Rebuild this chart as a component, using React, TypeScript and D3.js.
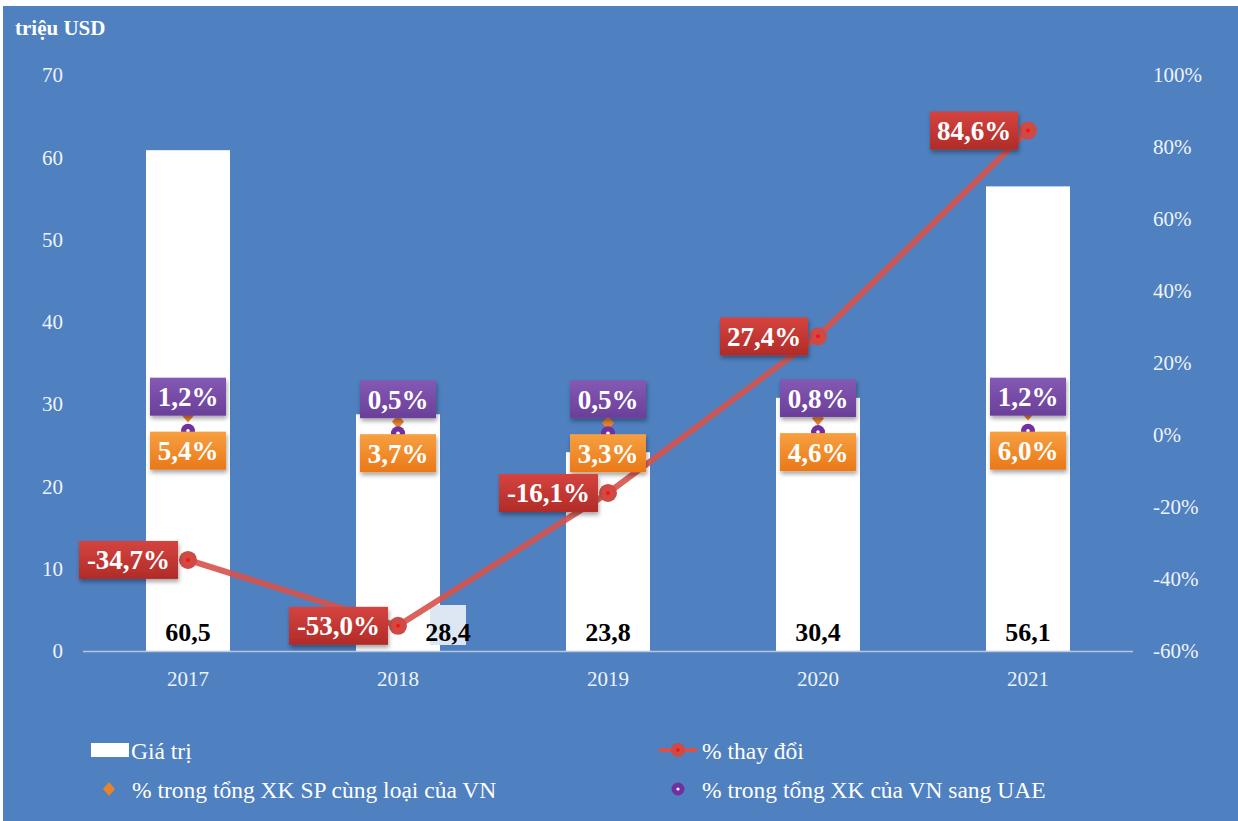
import React from "react";
import * as d3 from "d3";

const years = ["2017", "2018", "2019", "2020", "2021"];
const values = [60.5, 28.4, 23.8, 30.4, 56.1];
const changePct = [-34.7, -53.0, -16.1, 27.4, 84.6];
const shareSameProduct = [5.4, 3.7, 3.3, 4.6, 6.0];
const shareToUAE = [1.2, 0.5, 0.5, 0.8, 1.2];
const leftTicks = [0, 10, 20, 30, 40, 50, 60, 70];
const rightTicks = [-60, -40, -20, 0, 20, 40, 60, 80, 100];

const W = 1238;
const H = 821;
const FONT = "'Liberation Serif', 'Times New Roman', serif";
const BG = "#4f80bf";

const fmt = (v: number, d = 1) => v.toFixed(d).replace(".", ",");

export default function App() {
  const plotTop = 75;
  const plotBottom = 651;
  const x = d3.scaleBand<string>().domain(years).range([83, 1133]).paddingInner(0.6).paddingOuter(0.3);
  const yL = d3.scaleLinear().domain([0, 70]).range([plotBottom, plotTop]);
  const yR = d3.scaleLinear().domain([-60, 100]).range([plotBottom, plotTop]);
  const cx = (y: string) => (x(y) as number) + x.bandwidth() / 2;

  const line = d3
    .line<number>()
    .x((_, i) => cx(years[i]))
    .y((d) => yR(d));

  const barLabelShift = [0, 50, 0, 0, 0];

  return (
    <svg width={W} height={H} style={{ position: "absolute", left: 0, top: 0 }} fontFamily={FONT}>
      <defs>
        <linearGradient id="gRed" x1="0" y1="0" x2="0" y2="1">
          <stop offset="0" stopColor="#d4443f" />
          <stop offset="1" stopColor="#b12b28" />
        </linearGradient>
        <linearGradient id="gOrange" x1="0" y1="0" x2="0" y2="1">
          <stop offset="0" stopColor="#f7a040" />
          <stop offset="1" stopColor="#ea7818" />
        </linearGradient>
        <linearGradient id="gPurple" x1="0" y1="0" x2="0" y2="1">
          <stop offset="0" stopColor="#8459b4" />
          <stop offset="1" stopColor="#6a3f98" />
        </linearGradient>
        <filter id="shadow" x="-20%" y="-20%" width="140%" height="160%">
          <feDropShadow dx="1" dy="3" stdDeviation="2" floodColor="#000" floodOpacity="0.35" />
        </filter>
      </defs>
      <rect x={0} y={0} width={W} height={H} fill="#fff" />
      <rect x={3} y={6} width={W - 3} height={H - 6} fill={BG} />

      <text x={15} y={35} fill="#fff" fontWeight="bold" fontSize={21}>
        triệu USD
      </text>

      {/* left ticks */}
      {leftTicks.map((t) => (
        <text key={"l" + t} x={63} y={yL(t)} dy="0.35em" textAnchor="end" fill="#eef3fb" fontSize={21}>
          {t}
        </text>
      ))}
      {/* right ticks */}
      {rightTicks.map((t) => (
        <text key={"r" + t} x={1153} y={yR(t)} dy="0.35em" textAnchor="start" fill="#eef3fb" fontSize={21}>
          {t}%
        </text>
      ))}

      {/* bars */}
      {years.map((y, i) => (
        <rect key={"b" + y} x={x(y)} y={yL(values[i]) - 3} width={x.bandwidth()} height={plotBottom - yL(values[i]) + 3} fill="#fff" />
      ))}

      {/* axis line */}
      <line x1={83} x2={1133} y1={plotBottom + 0.5} y2={plotBottom + 0.5} stroke="#b4c8e6" strokeWidth={1.5} />

      {/* category labels */}
      {years.map((y) => (
        <text key={"c" + y} x={cx(y)} y={679} dy="0.35em" textAnchor="middle" fill="#eef3fb" fontSize={21}>
          {y}
        </text>
      ))}

      {/* bar value labels */}
      {years.map((y, i) => {
        const lx = cx(y) + barLabelShift[i];
        return (
          <g key={"v" + y}>
            {barLabelShift[i] !== 0 && <rect x={lx - 18} y={605} width={36} height={40} fill="#dde7f3" />}
            <text x={lx} y={632} dy="0.35em" textAnchor="middle" fill="#000" fontWeight="bold" fontSize={26}>
              {fmt(values[i])}
            </text>
          </g>
        );
      })}

      {/* orange diamonds */}
      {years.map((y, i) => {
        const px = cx(y);
        const py = yR(shareSameProduct[i]);
        return <path key={"d" + y} d={`M${px},${py - 7}L${px + 6},${py}L${px},${py + 7}L${px - 6},${py}Z`} fill="#e9822c" />;
      })}
      {/* purple markers */}
      {years.map((y, i) => (
        <g key={"p" + y}>
          <circle cx={cx(y)} cy={yR(shareToUAE[i])} r={7} fill="#7030a0" />
          <circle cx={cx(y)} cy={yR(shareToUAE[i])} r={1.8} fill="#fff" />
        </g>
      ))}

      {/* change line */}
      <path d={line(changePct) || ""} fill="none" stroke="#d6524d" strokeOpacity={0.9} strokeWidth={6} />
      {years.map((y, i) => (
        <g key={"m" + y}>
          <circle cx={cx(y)} cy={yR(changePct[i])} r={9} fill="#cf4a44" />
          <circle cx={cx(y)} cy={yR(changePct[i])} r={2} fill="#ff1010" />
        </g>
      ))}

      {/* purple and orange labels */}
      {years.map((y, i) => {
        const px = cx(y);
        const py = yR(shareToUAE[i]);
        return (
          <g key={"pl" + y}>
            <rect x={px - 38} y={py - 53} width={76} height={38} fill="url(#gPurple)" filter="url(#shadow)" />
            <text x={px} y={py - 34} dy="0.35em" textAnchor="middle" fill="#fff" fontWeight="bold" fontSize={27}>
              {fmt(shareToUAE[i])}%
            </text>
            <rect x={px - 38} y={py + 1} width={76} height={38} fill="url(#gOrange)" filter="url(#shadow)" />
            <text x={px} y={py + 20} dy="0.35em" textAnchor="middle" fill="#fff" fontWeight="bold" fontSize={27}>
              {fmt(shareSameProduct[i])}%
            </text>
          </g>
        );
      })}

      {/* red labels */}
      {years.map((y, i) => {
        const px = cx(y);
        const py = yR(changePct[i]);
        const label = fmt(changePct[i]) + "%";
        const w = changePct[i] < 0 ? 99 : 88;
        return (
          <g key={"rl" + y}>
            <rect x={px - 10 - w} y={py - 19} width={w} height={38} fill="url(#gRed)" filter="url(#shadow)" />
            <text x={px - 10 - w / 2} y={py} dy="0.35em" textAnchor="middle" fill="#fff" fontWeight="bold" fontSize={27}>
              {label}
            </text>
          </g>
        );
      })}

      {/* legend */}
      <g fontSize={23.5} fill="#fff">
        <rect x={91} y={743} width={38} height={14} fill="#fff" />
        <text x={131} y={751} dy="0.35em">Giá trị</text>

        <line x1={659} x2={697} y1={750} y2={750} stroke="#d6524d" strokeWidth={4} />
        <circle cx={678} cy={750} r={7} fill="#cf4a44" />
        <circle cx={678} cy={750} r={1.8} fill="#ff1010" />
        <text x={702} y={751} dy="0.35em">% thay đổi</text>

        <path d="M109,782L115,789L109,796L103,789Z" fill="#e9822c" />
        <text x={132} y={790} dy="0.35em">% trong tổng XK SP cùng loại của VN</text>

        <circle cx={678} cy={789} r={6.5} fill="#7030a0" />
        <circle cx={678} cy={789} r={1.6} fill="#fff" />
        <text x={702} y={790} dy="0.35em">% trong tổng XK của VN sang UAE</text>
      </g>
    </svg>
  );
}
